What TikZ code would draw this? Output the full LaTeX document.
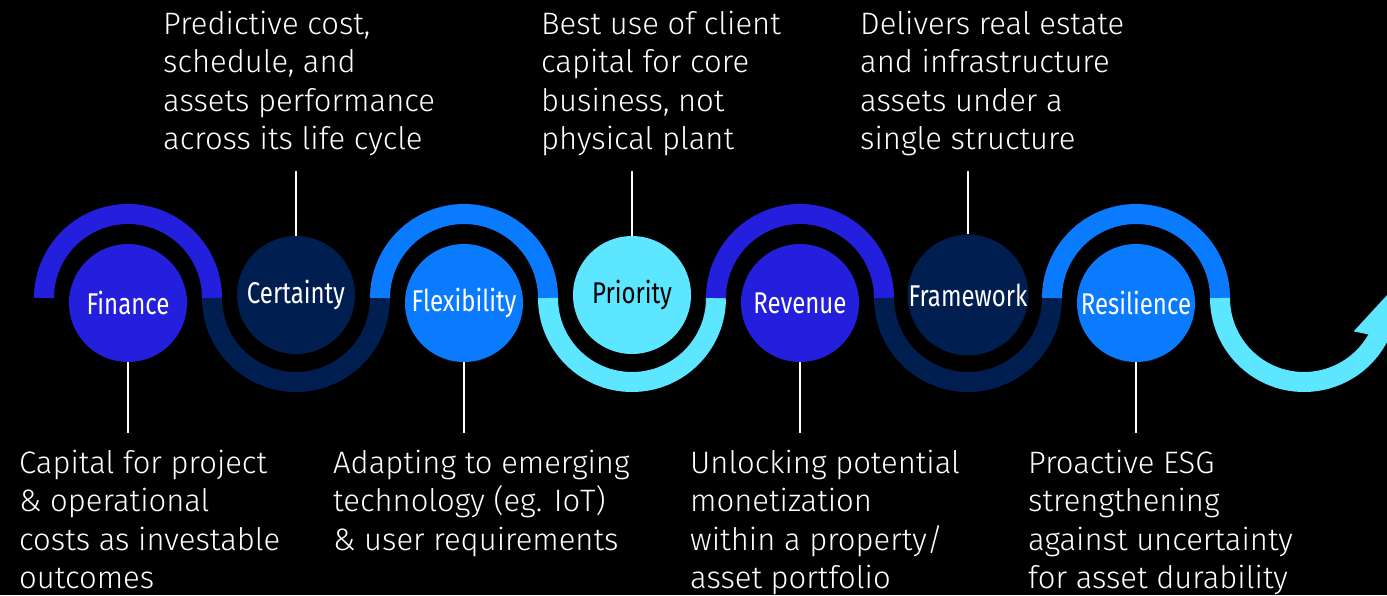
\documentclass[tikz,border=0pt]{standalone}
\usepackage{fontspec}
\setmainfont{Fira Sans}[UprightFont={* Light}]
\newfontfamily\stagefont{Fira Sans}[FakeStretch=0.8]
\usetikzlibrary{arrows.meta,bending}
\definecolor{WaveViolet}{RGB}{35,31,220}
\definecolor{WaveBlue}{RGB}{10,123,255}
\definecolor{WaveNavy}{RGB}{0,30,80}
\definecolor{WaveCyan}{RGB}{92,230,255}

\tikzset{
  ribbon/.style={line width=20pt},
  stage/.style={circle, minimum size=118pt, inner sep=0pt, text=white,
    font=\stagefont\fontsize{30}{30}\selectfont},
  note/.style={anchor=north west, align=left, inner sep=0pt, text=white,
    font=\fontsize{31}{38.5}\selectfont},
  tick/.style={draw=white, line width=2pt}
}

\begin{document}
\begin{tikzpicture}[x=1pt,y=-1pt]
  \fill[black] (0,0) rectangle (1387,595);
  \useasboundingbox (0,0) rectangle (1387,595);

  % wave ribbon
  \draw[ribbon, WaveViolet] (44,298) arc[start angle=180, end angle=360, radius=84];
  \draw[ribbon, WaveNavy] (212,298) arc[start angle=180, end angle=0, radius=84];
  \draw[ribbon, WaveBlue] (380,298) arc[start angle=180, end angle=360, radius=84];
  \draw[ribbon, WaveCyan] (548,298) arc[start angle=180, end angle=0, radius=84];
  \draw[ribbon, WaveViolet] (716,298) arc[start angle=180, end angle=360, radius=84];
  \draw[ribbon, WaveNavy] (884,298) arc[start angle=180, end angle=0, radius=84];
  \draw[ribbon, WaveBlue] (1052,298) arc[start angle=180, end angle=360, radius=84];
  \draw[ribbon, WaveCyan, -{Triangle[length=44pt,width=48pt]}]
    (1220,298) arc[start angle=180, end angle=-3, radius=84];

  % stages
  \node[stage, fill=WaveViolet] (finance) at (128,303) {Finance};
  \node[stage, fill=WaveNavy] (certainty) at (296,295) {Certainty};
  \node[stage, fill=WaveBlue] (flexibility) at (464,303) {Flexibility};
  \node[stage, fill=WaveCyan, text=black] (priority) at (632,295) {Priority};
  \node[stage, fill=WaveViolet] (revenue) at (800,303) {Revenue};
  \node[stage, fill=WaveNavy] (framework) at (968,295) {Framework};
  \node[stage, fill=WaveBlue] (resilience) at (1136,303) {Resilience};

  % tick ends
  \coordinate (finance-end) at (128,433);
  \coordinate (certainty-end) at (296,171);
  \coordinate (flexibility-end) at (464,433);
  \coordinate (priority-end) at (632,171);
  \coordinate (revenue-end) at (800,433);
  \coordinate (framework-end) at (968,171);
  \coordinate (resilience-end) at (1136,433);

  \foreach \s in {finance,flexibility,revenue,resilience}
    \draw[tick] (\s.south) -- (\s-end);
  \foreach \s in {certainty,priority,framework}
    \draw[tick] (\s.north) -- (\s-end);

  % notes above
  \node[note] (certainty-note) at (163,7) {\strut Predictive cost,\\schedule, and\\assets performance\\across its life cycle};
  \node[note] (priority-note) at (541,7) {\strut Best use of client\\capital for core\\business, not\\physical plant};
  \node[note] (framework-note) at (860,7) {\strut Delivers real estate\\and infrastructure\\assets under a\\single structure};

  % notes below
  \node[note] (finance-note) at (19,446) {\strut Capital for project\\\& operational\\costs as investable\\outcomes};
  \node[note] (flexibility-note) at (333,446) {\strut Adapting to emerging\\technology (eg. IoT)\\\& user requirements};
  \node[note] (revenue-note) at (690,446) {\strut Unlocking potential\\monetization\\within a property/\\asset portfolio};
  \node[note] (resilience-note) at (1028,446) {\strut Proactive ESG\\strengthening\\against uncertainty\\for asset durability};
\end{tikzpicture}
\end{document}
